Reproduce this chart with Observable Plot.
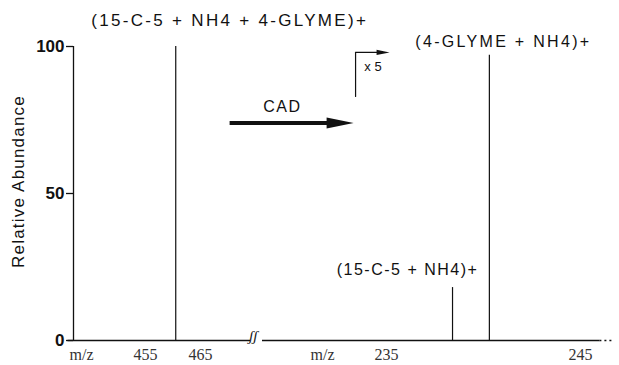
<!DOCTYPE html>
<html><head><meta charset="utf-8">
<script src="https://cdn.jsdelivr.net/npm/d3@7"></script>
<script src="https://cdn.jsdelivr.net/npm/@observablehq/plot@0.6"></script>
<style>
body{margin:0;background:#fff}
#wrap{position:relative;width:619px;height:365px;overflow:hidden;background:#fff}
#wrap svg{position:absolute;top:0;overflow:visible;background:none}
</style></head><body><div id="wrap"></div>
<script>
// ---- data ----
const parentMz = [460.5];
const parentAb = [100];
const fragMz = [238.4, 240.3];
const fragAb = [18, 97];
const leftTicks = [455, 465];
const rightTicks = [235, 245];
const yTicks = [0, 50, 100];
const leftDomain = [441.9, 474.1];
const rightDomain = [228.6, 246.65];
const yDomain = [0, 100];
const parentLabel = "(15-C-5 + NH4 + 4-GLYME)+";
const fragLabels = ["(15-C-5 + NH4)+", "(4-GLYME + NH4)+"];
const axisTitle = "Relative Abundance";
const xName = "m/z";
// annotation anchors (data coordinates)
const cadArrow = [{mz: 470.3, ab: 74}];
const cadText = [{mz: 479.9, ab: 79.6, t: "CAD"}];
const x5Line = [{mz: 233.4, ab: 83}, {mz: 233.4, ab: 98}];
const x5Arrow = [{mz: 233.4, ab: 98}];
const x5Text = [{mz: 234.3, ab: 93.2, t: "x 5"}];
const solidBaseEnd = 246.0;

const sans = "'Liberation Sans', Arial, Helvetica, sans-serif";
const serif = "'Liberation Serif', 'Times New Roman', serif";

function solidArrow(head, halfHead, halfShaft) {
  return {draw(ctx, l) {
    const b = -(l - head);
    ctx.moveTo(-halfShaft, 0);
    ctx.lineTo(-halfShaft, b);
    ctx.lineTo(-halfHead, b);
    ctx.lineTo(0, -l);
    ctx.lineTo(halfHead, b);
    ctx.lineTo(halfShaft, b);
    ctx.lineTo(halfShaft, 0);
    ctx.closePath();
  }};
}

const parentPeaks = parentMz.map((mz, i) => ({mz, ab: parentAb[i]}));
const fragPeaks = fragMz.map((mz, i) => ({mz, ab: fragAb[i], label: fragLabels[i]}));

const common = {height: 365, marginTop: 46, marginBottom: 25,
  style: {background: "none", overflow: "visible", fontFamily: sans, color: "#111"}};

const left = Plot.plot({
  ...common, width: 256, marginLeft: 73, marginRight: 6,
  x: {domain: leftDomain},
  y: {domain: yDomain},
  marks: [
    Plot.axisY({ticks: yTicks, tickSize: 7, tickPadding: 2, fontSize: 17, fontWeight: "bold", label: null, strokeWidth: 1.3}),
    Plot.axisX({ticks: leftTicks, tickSize: 0, tickPadding: 8, fontSize: 16, fontFamily: serif, fill: "#333", label: null}),
    Plot.ruleX([leftDomain[0]], {y1: 0, y2: 100, strokeWidth: 1.3}),
    Plot.ruleY([0], {x1: leftDomain[0] - 1, x2: leftDomain[1], strokeWidth: 1.4}),
    Plot.ruleX(parentPeaks, {x: "mz", y1: 0, y2: "ab", strokeWidth: 1.2}),
    Plot.text(parentPeaks, {x: "mz", y: "ab", text: () => parentLabel, dx: 54, dy: -26, fontSize: 17}),
    Plot.vector(cadArrow, {x: "mz", y: "ab", length: 124, rotate: 90, anchor: "start",
      shape: solidArrow(27, 5.5, 2), fill: "#111", stroke: "none"}),
    Plot.text(cadText, {x: "mz", y: "ab", text: "t", fontSize: 16}),
    Plot.text([axisTitle], {frameAnchor: "left", textAnchor: "middle", rotate: -90, dx: -55, dy: -12, fontSize: 17}),
    Plot.text([xName], {frameAnchor: "bottom-left", textAnchor: "middle", dx: 8, dy: 8, lineAnchor: "top", fontSize: 16, fontFamily: serif, fill: "#333"}),
    Plot.text(["ʃʃ"], {frameAnchor: "bottom-right", dx: 7, fontSize: 15, fontFamily: serif, fontStyle: "italic"})
  ]
});

const right = Plot.plot({
  ...common, width: 363, marginLeft: 6, marginRight: 7,
  x: {domain: rightDomain},
  y: {domain: yDomain, axis: null},
  marks: [
    Plot.axisX({ticks: rightTicks, tickSize: 0, tickPadding: 8, fontSize: 16, fontFamily: serif, fill: "#333", label: null}),
    Plot.ruleY([0], {x1: rightDomain[0], x2: solidBaseEnd, strokeWidth: 1.4}),
    Plot.ruleY([0], {x1: solidBaseEnd, x2: rightDomain[1], strokeWidth: 1.4, strokeDasharray: "2,3"}),
    Plot.ruleX(fragPeaks, {x: "mz", y1: 0, y2: "ab", strokeWidth: 1.2}),
    Plot.text(fragPeaks.slice(0, 1), {x: () => fragMz[1], y: "ab", text: "label", textAnchor: "end", dx: -11, dy: -18, fontSize: 16}),
    Plot.text(fragPeaks.slice(1), {x: "mz", y: "ab", text: "label", dx: 14, dy: -13, fontSize: 16}),
    Plot.line(x5Line, {x: "mz", y: "ab", strokeWidth: 1.2}),
    Plot.vector(x5Arrow, {x: "mz", y: "ab", length: 34, rotate: 90, anchor: "start",
      shape: solidArrow(13, 2.6, 0.7), fill: "#111", stroke: "none"}),
    Plot.text(x5Text, {x: "mz", y: "ab", text: "t", fontSize: 13}),
    Plot.text([xName], {frameAnchor: "bottom-left", textAnchor: "middle", dx: 60, dy: 8, lineAnchor: "top", fontSize: 16, fontFamily: serif, fill: "#333"})
  ]
});

const wrap = document.getElementById("wrap");
left.style.left = "0px";
right.style.left = "256px";
wrap.appendChild(left);
wrap.appendChild(right);

// letter spacing for the spaced-out annotation typeface
const spacing = new Map([[parentLabel, "2.3px"], [fragLabels[0], "1.5px"], [fragLabels[1], "2.3px"], ["CAD", "1.5px"], [axisTitle, "1.2px"]]);
d3.selectAll("#wrap text").each(function() {
  if (spacing.has(this.textContent)) this.style.letterSpacing = spacing.get(this.textContent);
});
</script></body></html>
